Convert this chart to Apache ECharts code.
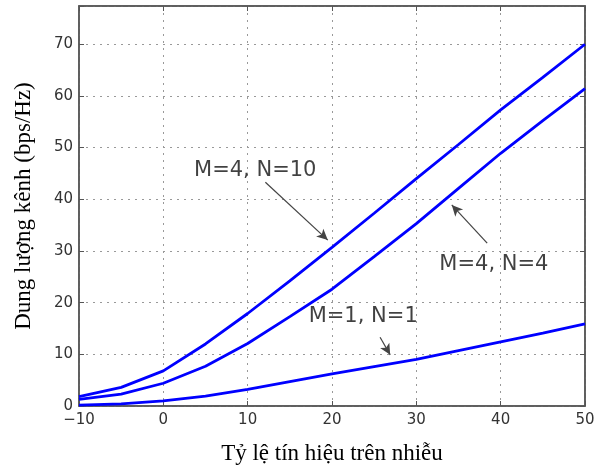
<!DOCTYPE html>
<html>
<head>
<meta charset="utf-8">
<script src="https://cdn.jsdelivr.net/npm/echarts@6/dist/echarts.min.js"></script>
<style>
  html, body { margin: 0; padding: 0; background: #fff; }
  #chart { width: 594px; height: 469px; }
</style>
</head>
<body>
<div id="chart"></div>
<script>
// SNR in dB
const snr = [-10, -5, 0, 5, 10, 15, 20, 25, 30, 35, 40, 45, 50];
// Capacity (bps/Hz) for each antenna configuration
const capM4N10 = [1.8, 3.6, 6.8, 12.0, 17.9, 24.2, 30.7, 37.3, 44.0, 50.6, 57.3, 63.6, 70.0];
const capM4N4  = [1.3, 2.3, 4.4, 7.7, 12.1, 17.3, 22.6, 28.9, 35.3, 42.1, 48.9, 55.2, 61.4];
const capM1N1  = [0.15, 0.4, 1.0, 1.9, 3.2, 4.7, 6.2, 7.6, 9.0, 10.7, 12.4, 14.1, 15.9];

const xTicks = [-10, 0, 10, 20, 30, 40, 50];
const yTicks = [0, 10, 20, 30, 40, 50, 60, 70];

const xLabel = 'Tỷ lệ tín hiệu trên nhiễu';
const yLabel = 'Dung lượng kênh (bps/Hz)';

// Curve captions: text, text anchor [snr, capacity], arrow from -> to
const captions = [
  { text: 'M=4, N=10', at: [10.9, 45.6], from: [12.1, 43.3], to: [19.5, 32.1] },
  { text: 'M=4, N=4',  at: [39.2, 27.4], from: [38.4, 31.5], to: [34.2, 38.9] },
  { text: 'M=1, N=1',  at: [23.7, 17.3], from: [25.7, 13.3], to: [26.9, 9.9] }
];

const axisColor = '#555';
const tickFont = { fontFamily: 'DejaVu Sans', fontSize: 15, color: '#333' };
const serifFont = { fontFamily: 'Liberation Serif', fontSize: 23, color: '#000' };

const pair = ys => snr.map((x, i) => [x, ys[i]]);
const fmt = v => String(v).replace('-', '\u2212');

const chart = echarts.init(document.getElementById('chart'), null, { renderer: 'canvas' });

const curve = (name, ys) => ({
  name, type: 'line', data: pair(ys), showSymbol: false, symbol: 'none',
  lineStyle: { color: '#0000ff', width: 2.8 }, itemStyle: { color: '#0000ff' },
  xAxisIndex: 0, yAxisIndex: 0, z: 3, animation: false
});

const frameAxis = {
  axisLine: { show: true, onZero: false, lineStyle: { color: axisColor, width: 1.5 } },
  axisTick: { show: true, inside: true, length: 5, lineStyle: { color: axisColor } }
};

chart.setOption({
  animation: false,
  backgroundColor: '#fff',
  grid: {
    left: 79, right: 9, top: 6, bottom: 63,
    containLabel: false, outerBoundsMode: 'none',
    show: true, borderColor: axisColor, borderWidth: 1.5
  },
  xAxis: [
    {
      type: 'value', min: xTicks[0], max: xTicks[xTicks.length - 1], interval: 10,
      position: 'bottom', ...frameAxis,
      axisLabel: { ...tickFont, margin: 7, formatter: fmt },
      splitLine: { show: true, lineStyle: { color: '#999', type: [2, 5], width: 1 } },
      name: xLabel, nameLocation: 'middle', nameGap: 36, nameTextStyle: serifFont
    },
    {
      type: 'value', min: xTicks[0], max: xTicks[xTicks.length - 1], interval: 10,
      position: 'top', ...frameAxis,
      axisLabel: { show: false }, splitLine: { show: false }
    }
  ],
  yAxis: [
    {
      type: 'value', min: 0, max: 77.4, interval: 10,
      position: 'left', ...frameAxis,
      axisLabel: { ...tickFont, margin: 6, formatter: v => (yTicks.includes(v) ? fmt(v) : '') },
      splitLine: { show: true, lineStyle: { color: '#999', type: [2, 5], width: 1 } },
      name: yLabel, nameLocation: 'middle', nameGap: 44, nameRotate: 90, nameTextStyle: serifFont
    },
    {
      type: 'value', min: 0, max: 77.4, interval: 10,
      position: 'right', ...frameAxis,
      axisLabel: { show: false }, splitLine: { show: false }
    }
  ],
  series: [
    curve('M=4, N=10', capM4N10),
    curve('M=4, N=4', capM4N4),
    curve('M=1, N=1', capM1N1),
    {
      name: 'captions', type: 'scatter', symbolSize: 0, silent: true, z: 5,
      data: captions.map(c => ({ value: c.at, name: c.text })),
      label: {
        show: true, position: 'inside', formatter: p => p.name,
        fontFamily: 'DejaVu Sans', fontSize: 21, color: '#111',
        textBorderWidth: 0
      },
      markLine: {
        silent: true, animation: false,
        symbol: ['none', 'arrow'], symbolSize: [8, 11],
        lineStyle: { color: '#444', width: 1.2, type: 'solid' },
        label: { show: false },
        data: captions.map(c => [{ coord: c.from }, { coord: c.to }])
      }
    }
  ]
});
</script>
</body>
</html>
